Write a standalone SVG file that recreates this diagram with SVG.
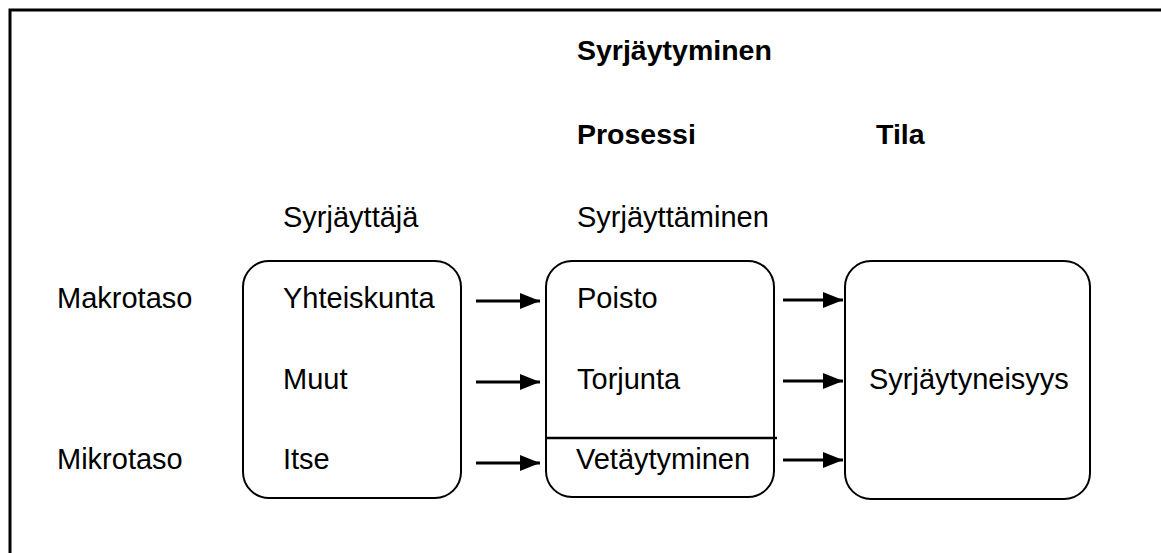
<svg xmlns="http://www.w3.org/2000/svg" width="1161" height="553" viewBox="0 0 1161 553">
<defs>
<style>
text{font-family:"Liberation Sans",Arial,sans-serif;font-size:29px;fill:#000}
.b{font-weight:bold;font-size:28.5px}
.box{fill:#fff;stroke:#000;stroke-width:2}
.arr{stroke:#000;stroke-width:3;fill:none;marker-end:url(#ah)}
</style>
<marker id="ah" markerUnits="userSpaceOnUse" markerWidth="22" markerHeight="18" refX="20" refY="9" orient="auto">
<path d="M0,1 L20,9 L0,17 Z" fill="#000"/>
</marker>
</defs>
<rect width="1161" height="553" fill="#fff"/>
<g id="frame">
<path d="M10,553 V10 H1161" fill="none" stroke="#000" stroke-width="3"/>
</g>
<g id="headers">
<text class="b" x="577" y="60">Syrjäytyminen</text>
<text class="b" x="577" y="144">Prosessi</text>
<text class="b" x="876" y="144">Tila</text>
<text x="283" y="227">Syrjäyttäjä</text>
<text x="577" y="227">Syrjäyttäminen</text>
<text x="57" y="308">Makrotaso</text>
<text x="57" y="469">Mikrotaso</text>
</g>
<g id="node-syrjayttaja">
<rect class="box" x="243" y="261" width="218" height="237" rx="26"/>
<text x="283" y="308">Yhteiskunta</text>
<text x="283" y="389">Muut</text>
<text x="283" y="469">Itse</text>
</g>
<g id="node-prosessi">
<rect class="box" x="546" y="261" width="228" height="236" rx="26"/>
<line x1="545" y1="438" x2="777" y2="438" stroke="#000" stroke-width="2.5"/>
<text x="577" y="308">Poisto</text>
<text x="577" y="389">Torjunta</text>
<text x="576" y="469">Vetäytyminen</text>
</g>
<g id="node-tila">
<rect class="box" x="845" y="261" width="245" height="238" rx="26"/>
<text x="869" y="389">Syrjäytyneisyys</text>
</g>
<g id="connectors">
<line class="arr" x1="476" y1="301" x2="540" y2="301"/>
<line class="arr" x1="476" y1="382" x2="540" y2="382"/>
<line class="arr" x1="476" y1="463" x2="540" y2="463"/>
<line class="arr" x1="783" y1="300" x2="843" y2="300"/>
<line class="arr" x1="783" y1="381" x2="843" y2="381"/>
<line class="arr" x1="783" y1="460" x2="843" y2="460"/>
</g>
</svg>
